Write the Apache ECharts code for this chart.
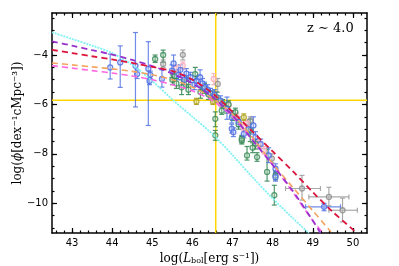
<!DOCTYPE html>
<html><head><meta charset="utf-8">
<script src="https://cdn.jsdelivr.net/npm/echarts@6/dist/echarts.min.js"></script>
<style>html,body{margin:0;padding:0;background:#fff}#c{width:399px;height:266px}</style>
</head><body><div id="c"></div>
<script>
// ---- axes / ticks ----
const xRange = [42.5, 50.35];
const yRange = [-11.2, -2.3];
const xTicks = [43, 44, 45, 46, 47, 48, 49, 50];
const yTicks = [-10, -8, -6, -4];
const refL = 46.58, refPhi = -5.83;
const redshiftLabel = 'z ∼ 4.0';

// ---- model curves ----
const cyanL   = [42.5, 43, 43.5, 44, 44.5, 45, 45.5, 46, 46.5, 47, 47.5, 48, 48.5, 48.9];
const cyanPhi = [-3.08, -3.35, -3.62, -3.92, -4.4, -5.05, -5.8, -6.5, -7.2, -8.05, -8.95, -9.8, -10.6, -11.2];
const purpleL   = [42.5, 43, 43.5, 44, 44.5, 45, 45.5, 46, 46.5, 47, 47.5, 48, 48.5, 49, 49.19];
const purplePhi = [-3.45, -3.62, -3.8, -3.98, -4.2, -4.45, -4.75, -5.15, -5.7, -6.45, -7.45, -8.45, -9.5, -10.7, -11.2];
const redL   = [42.5, 43, 43.5, 44, 44.5, 45, 45.5, 46, 46.5, 47, 47.5, 48, 48.5, 49, 49.5, 50.1];
const redPhi = [-3.79, -3.92, -4.05, -4.18, -4.32, -4.48, -4.65, -5.0, -5.55, -6.3, -7.1, -7.9, -8.7, -9.55, -10.35, -11.2];
const orangeL   = [42.5, 43, 43.5, 44, 44.5, 45, 45.5, 46, 46.5, 47, 47.5, 48, 48.5, 49, 49.45];
const orangePhi = [-4.32, -4.4, -4.48, -4.56, -4.66, -4.8, -5.0, -5.3, -5.75, -6.4, -7.35, -8.4, -9.35, -10.3, -11.15];
const magentaL   = [42.5, 43, 43.5, 44, 44.5, 45, 45.5, 46, 46.5, 47, 47.5, 48, 48.5, 49, 49.25];
const magentaPhi = [-4.43, -4.53, -4.63, -4.73, -4.85, -5.0, -5.2, -5.45, -5.85, -6.5, -7.45, -8.45, -9.55, -10.7, -11.2];

// ---- binned data (value, upper, lower) ----
const blueL   = [43.95, 44.2, 44.58, 44.62, 44.9, 44.95, 44.93, 45.24, 45.49, 45.53, 45.65, 45.7, 45.8, 45.85, 45.95, 46.05, 46.1, 46.19, 46.25, 46.3, 46.38, 46.45, 46.55, 46.7, 46.86, 46.98, 46.98, 47.02, 47.15, 47.28, 47.4, 47.52, 47.57, 47.7, 47.9, 48.07, 48.07, 49.28];
const bluePhi = [-4.5, -4.3, -4.43, -4.77, -4.56, -4.8, -5.05, -4.97, -4.63, -4.34, -4.8, -4.6, -5.0, -4.75, -4.9, -5.2, -5.05, -4.9, -5.15, -5.3, -5.4, -5.55, -5.6, -5.85, -6.18, -6.52, -6.98, -7.12, -6.7, -7.19, -7.0, -6.85, -7.32, -7.6, -8.06, -8.6, -8.94, -10.14];
const blueHi  = [-3.96, -3.63, -3.09, -4.6, -3.46, -4.65, -4.9, -4.6, -4.4, -4.0, -4.6, -4.4, -4.8, -4.55, -4.7, -5.0, -4.85, -4.6, -4.95, -5.1, -5.2, -5.35, -5.4, -5.65, -5.7, -6.3, -6.8, -6.95, -6.5, -7.0, -6.8, -6.5, -7.1, -7.4, -7.75, -8.4, -8.75, -10.0];
const blueLo  = [-4.97, -5.31, -6.1, -4.95, -6.85, -4.95, -5.2, -5.3, -4.9, -4.6, -5.0, -4.85, -5.2, -4.95, -5.1, -5.4, -5.25, -5.4, -5.35, -5.5, -5.6, -5.75, -5.8, -6.05, -6.6, -6.75, -7.15, -7.3, -6.9, -7.35, -7.2, -7.2, -7.6, -7.8, -8.35, -8.8, -9.1, -10.3];
const blueLmin = blueL.map((v, i) => i === blueL.length - 1 ? 48.82 : v);
const blueLmax = blueL.map((v, i) => i === blueL.length - 1 ? 49.69 : v);

const greenL   = [45.07, 45.27, 45.5, 45.55, 45.6, 45.73, 45.85, 45.9, 46.07, 46.2, 46.3, 46.4, 46.5, 46.57, 46.57, 46.6, 46.73, 46.75, 46.85, 46.9, 47.0, 47.07, 47.15, 47.23, 47.23, 47.36, 47.44, 47.5, 47.57, 47.61, 47.86, 48.07, 48.04];
const greenPhi = [-4.16, -4.0, -5.0, -4.85, -5.15, -5.3, -5.1, -5.4, -4.77, -5.5, -5.35, -5.6, -5.65, -6.58, -7.25, -5.7, -6.25, -5.95, -6.15, -6.0, -6.45, -6.31, -6.8, -7.46, -7.39, -8.06, -7.05, -7.75, -7.59, -8.13, -8.73, -8.87, -9.67];
const greenHi  = [-4.0, -3.8, -4.8, -4.65, -4.95, -5.0, -4.9, -5.2, -4.5, -5.3, -5.15, -5.4, -5.45, -6.3, -7.05, -5.5, -6.1, -5.8, -5.95, -5.85, -6.25, -6.15, -6.6, -7.3, -7.25, -7.7, -6.6, -7.55, -7.4, -7.95, -7.8, -8.7, -9.27];
const greenLo  = [-4.3, -4.3, -5.2, -5.05, -5.35, -5.6, -5.3, -5.6, -5.0, -5.75, -5.55, -5.8, -5.85, -6.9, -7.45, -5.9, -6.4, -6.1, -6.35, -6.2, -6.65, -6.5, -7.0, -7.6, -7.55, -8.25, -7.5, -7.95, -7.8, -8.3, -9.1, -9.05, -10.07];

const greyL    = [45.27, 45.76, 46.63, 47.44, 47.98, 48.73, 49.4, 49.74];
const greyPhi  = [-4.36, -3.99, -5.17, -6.65, -8.19, -9.4, -9.74, -10.28];
const greyHi   = [-4.2, -3.8, -4.95, -6.5, -8.0, -8.87, -9.35, -9.79];
const greyLo   = [-4.5, -4.2, -5.5, -6.8, -8.35, -9.87, -10.1, -10.75];
const greyLmin = [45.27, 45.76, 46.63, 47.44, 47.98, 48.32, 48.9, 49.4];
const greyLmax = [45.27, 45.76, 46.63, 47.44, 47.98, 49.19, 49.9, 50.11];

const pinkL   = [45.6, 45.76, 46.53, 46.9, 47.1, 47.27, 47.36, 47.65, 47.78];
const pinkPhi = [-4.55, -4.43, -4.97, -6.04, -6.5, -6.92, -6.78, -7.59, -7.86];
const pinkHi  = [-4.4, -4.28, -4.75, -5.9, -6.35, -6.78, -6.62, -7.45, -7.7];
const pinkLo  = [-4.7, -4.58, -5.2, -6.2, -6.65, -7.06, -6.92, -7.75, -8.0];

const oliveL   = [46.1, 46.51, 47.28];
const olivePhi = [-5.88, -5.88, -6.52];
const oliveHi  = [-5.75, -5.75, -6.38];
const oliveLo  = [-6.0, -6.0, -6.65];

// ---- helpers ----
const zip = (a, b) => a.map((v, i) => [v, b[i]]);
const minus = v => String(v).replace('-', '\u2212');

function errSeries(color, L, P, hi, lo, lmin, lmax) {
  const data = L.map((v, i) => [v, P[i], hi[i], lo[i], lmin ? lmin[i] : v, lmax ? lmax[i] : v]);
  return {
    type: 'custom', data, z: 3, silent: true, clip: true,
    renderItem(params, api) {
      const x = api.value(0), y = api.value(1);
      const st = { stroke: color, lineWidth: 1.2 };
      const ch = [];
      const a = api.coord([x, api.value(2)]), b = api.coord([x, api.value(3)]);
      ch.push({ type: 'line', shape: { x1: a[0], y1: a[1], x2: b[0], y2: b[1] }, style: st });
      ch.push({ type: 'line', shape: { x1: a[0] - 2.5, y1: a[1], x2: a[0] + 2.5, y2: a[1] }, style: st });
      ch.push({ type: 'line', shape: { x1: b[0] - 2.5, y1: b[1], x2: b[0] + 2.5, y2: b[1] }, style: st });
      if (api.value(4) !== x || api.value(5) !== x) {
        const c = api.coord([api.value(4), y]), d = api.coord([api.value(5), y]);
        ch.push({ type: 'line', shape: { x1: c[0], y1: c[1], x2: d[0], y2: d[1] }, style: st });
        ch.push({ type: 'line', shape: { x1: c[0], y1: c[1] - 2.5, x2: c[0], y2: c[1] + 2.5 }, style: st });
        ch.push({ type: 'line', shape: { x1: d[0], y1: d[1] - 2.5, x2: d[0], y2: d[1] + 2.5 }, style: st });
      }
      return { type: 'group', children: ch };
    }
  };
}
function markSeries(color, fill, L, P) {
  return {
    type: 'scatter', data: zip(L, P), symbol: 'circle', symbolSize: 5, z: 4, silent: true,
    itemStyle: { color: fill, borderColor: color, borderWidth: 1.3 }
  };
}
function curve(color, L, P, type, width, z) {
  return {
    type: 'line', data: zip(L, P), smooth: 0.3, symbol: 'none', z: z || 5, silent: true,
    lineStyle: { color, width, type }
  };
}

const minorX = [], minorY = [];
for (let v = 42.6; v < 50.35; v += 0.2) minorX.push(+v.toFixed(1));
for (let v = -11; v <= -2.5; v += 0.5) minorY.push(v);

const serif = '"DejaVu Serif", serif';
function xAx(pos, ticks, len, labels, line) {
  return {
    type: 'value', position: pos, min: xRange[0], max: xRange[1],
    axisLine: { show: line, onZero: false, lineStyle: { color: '#000', width: 1.5 } },
    axisTick: { show: true, inside: true, length: len, customValues: ticks, lineStyle: { color: '#000', width: 1.2 } },
    axisLabel: labels ? { show: true, customValues: ticks, color: '#000', fontSize: 10, fontFamily: '"DejaVu Sans", sans-serif', margin: 5, formatter: minus } : { show: false },
    splitLine: { show: false }
  };
}
function yAx(pos, ticks, len, labels, line) {
  return {
    type: 'value', position: pos, min: yRange[0], max: yRange[1],
    axisLine: { show: line, onZero: false, lineStyle: { color: '#000', width: 1.5 } },
    axisTick: { show: true, inside: true, length: len, customValues: ticks, lineStyle: { color: '#000', width: 1.2 } },
    axisLabel: labels ? { show: true, customValues: ticks, color: '#000', fontSize: 10, fontFamily: '"DejaVu Sans", sans-serif', margin: 4, formatter: minus } : { show: false },
    splitLine: { show: false }
  };
}

const rich = {
  t: { fontFamily: serif, fontSize: 12, color: '#000', verticalAlign: 'bottom', lineHeight: 16 },
  i: { fontFamily: serif, fontSize: 12, fontStyle: 'italic', color: '#000', verticalAlign: 'bottom', lineHeight: 16 },
  s: { fontFamily: serif, fontSize: 8, color: '#000', verticalAlign: 'bottom', lineHeight: 12 }
};
const xa0 = xAx('bottom', xTicks, 5, true, true);
xa0.name = '{t|log(}{i|L}{s|bol}{t|[erg s⁻¹])}';
xa0.nameLocation = 'middle';
xa0.nameGap = 15;
xa0.nameTextStyle = { rich };
const ya0 = yAx('left', yTicks, 5, true, true);
ya0.name = '{t|log(}{i|ϕ}{t|[dex⁻¹cMpc⁻³])}';
ya0.nameLocation = 'middle';
ya0.nameGap = 28;
ya0.nameMoveOverlap = false;
ya0.nameTextStyle = { rich };

const option = {
  animation: false,
  grid: { left: 52, top: 13, right: 32, bottom: 33, containLabel: false, outerBoundsMode: 'none' },
  xAxis: [xa0, xAx('bottom', minorX, 2.5, false, false), xAx('top', xTicks, 5, false, true), xAx('top', minorX, 2.5, false, false)],
  yAxis: [ya0, yAx('left', minorY, 2.5, false, false), yAx('right', yTicks, 5, false, true), yAx('right', minorY, 2.5, false, false)],
  graphic: [{ type: 'text', left: 307, top: 22, style: { text: redshiftLabel, font: '13px ' + serif, fill: '#000' } }],
  series: [
    curve('#ffd700', [refL, refL], yRange, 'solid', 1.5, 2),
    curve('#ffd700', xRange, [refPhi, refPhi], 'solid', 1.5, 2),
    errSeries('rgba(160,160,160,0.9)', greyL, greyPhi, greyHi, greyLo, greyLmin, greyLmax),
    errSeries('rgba(248,175,190,0.9)', pinkL, pinkPhi, pinkHi, pinkLo),
    errSeries('rgba(60,140,90,0.9)', greenL, greenPhi, greenHi, greenLo),
    errSeries('rgba(75,110,225,0.8)', blueL, bluePhi, blueHi, blueLo, blueLmin, blueLmax),
    errSeries('rgba(175,165,40,0.9)', oliveL, olivePhi, oliveHi, oliveLo),
    markSeries('rgba(140,140,140,1)', 'rgba(200,200,200,0.5)', greyL, greyPhi),
    markSeries('rgba(248,170,185,1)', 'rgba(255,220,225,0.5)', pinkL, pinkPhi),
    markSeries('rgba(55,135,85,1)', 'rgba(190,230,200,0.4)', greenL, greenPhi),
    markSeries('rgba(70,105,225,1)', 'rgba(190,205,250,0.5)', blueL, bluePhi),
    markSeries('rgba(170,160,30,1)', 'rgba(230,220,120,0.6)', oliveL, olivePhi),
    curve('#80f2f2', cyanL, cyanPhi, [2, 1], 1.8),
    curve('#f4a460', orangeL, orangePhi, [6, 4], 1.6),
    curve('#ff66e0', magentaL, magentaPhi, [6, 4], 1.6),
    curve('#9932cc', purpleL, purplePhi, [6, 4], 1.8),
    curve('#dc143c', redL, redPhi, [6, 4], 1.8)
  ]
};
echarts.init(document.getElementById('c'), null, { renderer: 'canvas' }).setOption(option);
</script></body></html>
